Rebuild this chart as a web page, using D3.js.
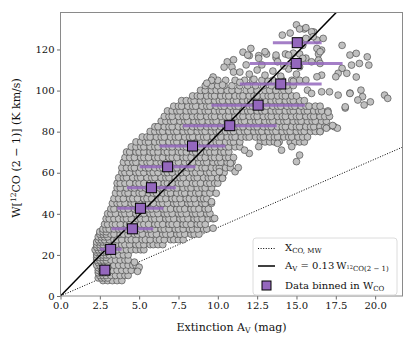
<!DOCTYPE html>
<html>
<head>
<meta charset="utf-8">
<script src="https://cdn.jsdelivr.net/npm/d3@7"></script>
<style>
body { margin: 0; background: #fff; }
text { font-family: "DejaVu Serif", serif; fill: #111; }
</style>
</head>
<body>
<script>
// binned points (W bins of 10 K km/s)
var binW = [12.6, 22.7, 32.7, 42.7, 52.7, 62.9, 73.0, 82.9, 92.9, 103.2, 113.2, 123.3],
    binAv = [2.82, 3.19, 4.57, 5.08, 5.78, 6.81, 8.39, 10.76, 12.56, 14.0, 14.98, 15.05],
    binErr = [0.25, 0.69, 1.33, 1.47, 1.55, 1.77, 2.1, 2.98, 2.97, 2.6, 2.95, 1.55];

var xTicks = [0, 2.5, 5, 7.5, 10, 12.5, 15, 17.5, 20],
    yTicks = [0, 20, 40, 60, 80, 100, 120];

var fitCoef = 0.127, mwCoef = 0.3;

// scatter, row by row: "W: Av*10 ..."
var cloudRows = [
  "7.5: 27 30 33 36 39",
  "8.8: 24 26 28 30",
  "10: 25 27 29 32 35 38 41 43",
  "11.3: 24 26 28 30",
  "12.5: 24 26 28 30 33 36 39 42 45 49",
  "13.8: 24 26 28 30",
  "15: 23 25 27 29 31 34 37 40 43 46 48",
  "16.3: 24 26 28 30",
  "17.5: 23 25 27 29 32 35 38 41 43",
  "18.8: 23 25 27 29",
  "20: 23 25 27 29 31 34 37 40 43",
  "21.3: 23 25 27 29",
  "22.5: 22 24 26 28 30 33 36 39 42 45 48 51 53",
  "23.8: 23 25 27 29",
  "25: 23 25 27 30 32 35 39 41 44 48 50 53 57 59 62 65",
  "26.3: 23 25 27 29",
  "27.4: 24 26 28 31 34 36 39 43 45 48 52 54 57 61 63 66 70 72 75 78",
  "28.8: 24 26 28 30",
  "30.1: 25 27 29 32 34 38 40 43 47 49 52 56 58 61 65 67 70 74 76 79 83 85 88",
  "31.3: 25 27 29",
  "32.6: 27 29 31 34 37 39 42 46 48 51 55 57 60 64 66 69 73 75 78 82 84 87 91 93",
  "34.9: 28 30 33 35 38 42 44 47 51 53 56 60 62 65 69 71 74 78 80 83 87 89 92",
  "37.6: 29 31 34 37 40 42 45 49 51 54 58 60 63 67 69 72 76 78 81 85 87 90 94 97",
  "40.1: 30 32 35 39 41 44 48 50 53 57 59 62 66 68 71 75 77 80 84 86 89 93 95",
  "42.4: 32 34 38 40 43 47 49 52 56 58 61 65 67 70 74 76 79 83 85 88 92 94",
  "45.1: 33 36 38 41 45 47 50 54 56 59 63 65 68 72 74 77 81 83 86 90 92 96",
  "47.4: 34 37 40 44 46 49 53 55 58 62 64 67 71 73 76 80 82 85 89 91 93",
  "50.1: 35 38 41 43 47 50 52 56 59 61 65 68 70 74 77 79 83 86 88 92 95",
  "52.6: 36 38 42 45 47 51 54 56 60 63 65 69 72 74 78 81 83 87 90 92 96",
  "54.9: 36 38 41 44 48 50 53 57 59 62 66 68 71 75 77 80 84 86 89 93 95 98 100",
  "57.6: 37 40 42 46 49 51 55 58 60 64 67 69 73 76 78 82 85 87 91 94 96 100 103",
  "60.1: 39 41 44 48 50 53 57 59 62 66 68 71 75 77 80 84 86 89 93 95 98 102 104",
  "62.4: 39 42 45 47 51 54 56 60 63 65 69 72 74 78 81 83 87 90 92 96 99 101 105 108",
  "65.1: 40 43 46 48 52 55 57 61 64 66 70 73 75 79 82 84 88 91 93 97 100 102 106 109",
  "67.4: 41 44 47 51 53 56 60 62 65 69 71 74 78 80 83 87 89 92 96 98 101 105 107 110",
  "70.1: 42 44 48 50 53 57 59 62 66 68 71 75 77 80 84 86 89 93 95 98 102 104 107",
  "72.6: 45 48 51 53 57 60 62 66 69 71 75 78 80 84 87 89 93 96 98 102 105 107 111 114",
  "75: 48 51 54 56 60 63 65 69 72 74 78 81 83 87 90 92 96 99 101 105 108 110 114 127 130 133 136 139 146 149 152 155",
  "77.4: 52 55 57 61 64 66 70 73 75 79 82 84 88 91 93 97 100 102 106 109 111 115 118 120 124 127 129 133 136 138 142 145 147 151 154 157",
  "80.1: 57 60 63 65 69 72 74 78 81 83 87 90 92 96 99 101 105 108 110 114 117 119 123 126 128 132 135 137 141 144 146 150 153 155 159 162 165",
  "82.4: 60 62 66 69 71 75 78 80 84 87 89 93 96 98 102 105 107 111 114 116 120 123 125 129 132 134 138 141 143 147 150 152 156 159 161 165 168 170 174",
  "85.1: 64 67 70 72 76 79 81 85 88 90 94 97 99 103 106 108 112 115 117 121 124 126 130 133 135 139 142 144 148 151 153 157 160 162 166 169",
  "87.4: 66 69 71 75 78 80 84 87 89 93 96 98 102 105 107 111 114 116 120 123 125 129 132 134 138 141 143 147 150 152 156 159 161 165 168 171",
  "90.1: 68 71 74 76 80 83 85 89 92 94 98 101 103 107 110 112 116 119 121 125 128 130 134 137 139 143 146 148 152 155 157 161 164 166 170",
  "92.4: 72 75 77 81 84 86 90 93 95 99 102 104 108 111 113 117 120 122 126 129 131 135 138 140 144 147 149 153 156 158 162 165",
  "95.1: 77 80 83 85 89 92 94 98 101 103 107 110 112 116 119 121 125 128 130 134 137 139 143 146 148 152 155",
  "97.4: 84 87 89 93 96 98 102 105 107 111 114 116 120 123 125 129 132 134 138 141 143 147 150",
  "100.1: 89 92 96 99 102 106 109 113 118 121 125 130 133 137 142 145",
  "102.4: 92 96 100 104 109 114 119 124 129 134 139 144 148",
  "105: 96 100 105 111 117 122 128 135 141 147 152"
];

// scattered points around the edges [Av, W]
var cloudExtra = [
  [5.0, 14], [4.9, 12], [4.7, 16.5],
  [9.7, 33], [9.8, 37.8], [9.6, 45.9], [9.9, 50], [10.3, 57.3], [10.1, 60.5], [11.1, 60.5],
  [10.8, 64.6], [11.3, 62.5], [12.0, 69.4], [11.7, 71], [12.6, 72.7], [14.05, 71], [13.8, 74.3],
  [14.7, 72.7], [15.0, 65.4], [15.2, 68.6], [16.5, 80], [16.9, 81.7], [17.6, 81.7], [17.3, 83],
  [17.0, 89.5], [18.1, 91.5], [18.4, 98.8], [18.8, 106.6],
  [11.6, 118.7], [12.0, 117], [12.6, 117], [13.1, 117.8], [13.7, 116], [14.3, 117.8], [14.8, 118.2],
  [15.2, 117.8], [15.6, 115.8], [16.4, 117.8], [16.6, 119.7], [16.3, 124.6], [16.1, 128.5],
  [15.5, 130], [15.0, 132], [14.6, 128], [14.1, 127], [10.6, 114], [11.0, 115], [10.9, 111.4],
  [10.4, 111.4], [11.0, 109], [11.4, 109], [9.7, 106.6], [9.6, 105], [9.3, 103.6], [10.3, 102.7],
  [11.4, 104], [15.2, 130], [15.6, 130.6], [15.96, 128.6], [16.06, 126.2], [15.6, 125.4],
  [15.4, 122], [16.3, 120.5], [16.5, 118.9], [16.7, 125.4], [17.9, 122], [12.1, 120.5],
  [13.0, 118.9], [12.6, 115.7], [11.9, 117.3], [13.7, 117.3], [13.8, 114], [14.5, 117.3],
  [15.4, 115.7], [15.96, 114], [16.4, 114.8], [16.5, 113.2], [18.4, 117.3], [18.8, 118.1],
  [19.5, 116.4], [19.0, 113.2], [19.6, 112.4], [18.5, 112.4], [17.9, 110.8], [17.65, 108.4],
  [17.5, 106.7], [18.2, 108.4], [20.6, 97.8], [20.8, 96.2], [19.1, 100.2], [19.2, 97],
  [19.7, 94.5], [19.3, 93], [18.9, 95.4], [18.4, 98.6], [18.1, 92.1], [17.65, 97.8],
  [17.1, 99.4], [16.6, 99.4], [16.6, 107.5], [16.3, 106.7], [15.6, 105.1], [15.7, 100.2],
  [15.96, 98.6], [12.0, 108], [12.5, 110], [13.0, 107.5], [13.5, 109.5], [14.0, 107],
  [14.5, 110.5], [15.0, 108], [12.3, 105.5], [13.2, 104.5], [14.8, 104.5], [12.8, 112.5],
  [14.2, 112], [15.2, 111.5], [11.8, 112.5]
];

var width = 415, height = 346,
    margin = {left: 60.5, right: 12.5, top: 12.5, bottom: 50};

var x = d3.scaleLinear().domain([0, 21.74]).range([margin.left, width - margin.right]);
var y = d3.scaleLinear().domain([0, 138]).range([height - margin.bottom, margin.top]);

var cloud = [];
cloudRows.forEach(function (row) {
  var parts = row.split(":"), w = +parts[0];
  parts[1].trim().split(/\s+/).forEach(function (a) { cloud.push([+a / 10, w]); });
});
cloud = cloud.concat(cloudExtra);

var svg = d3.select("body").append("svg").attr("width", width).attr("height", height);

svg.append("clipPath").attr("id", "plot").append("rect")
  .attr("x", x(0)).attr("y", y(138)).attr("width", x(21.74) - x(0)).attr("height", y(0) - y(138));

var plot = svg.append("g").attr("clip-path", "url(#plot)");

var line = d3.line().x(function (d) { return x(d[0]); }).y(function (d) { return y(d[1]); });

plot.append("path")
  .attr("d", line([[0, 0], [21.74, 21.74 / mwCoef]]))
  .attr("fill", "none").attr("stroke", "#000").attr("stroke-width", 1)
  .attr("stroke-dasharray", "1,1.6");

plot.append("g").selectAll("circle").data(cloud).enter().append("circle")
  .attr("cx", function (d) { return x(d[0]); })
  .attr("cy", function (d) { return y(d[1]); })
  .attr("r", 3.4)
  .attr("fill", "#c0c0c0").attr("stroke", "#3a3a3a").attr("stroke-width", 0.6);

plot.append("path")
  .attr("d", line([[0, 0], [21.74, 21.74 / fitCoef]]))
  .attr("fill", "none").attr("stroke", "#000").attr("stroke-width", 1.5);

plot.append("g").selectAll("line").data(binW).enter().append("line")
  .attr("x1", function (d, i) { return x(binAv[i] - binErr[i]); })
  .attr("x2", function (d, i) { return x(binAv[i] + binErr[i]); })
  .attr("y1", function (d) { return y(d); })
  .attr("y2", function (d) { return y(d); })
  .attr("stroke", "#9467bd").attr("stroke-opacity", 0.85).attr("stroke-width", 3);

plot.append("g").selectAll("rect").data(binW).enter().append("rect")
  .attr("x", function (d, i) { return x(binAv[i]) - 5; })
  .attr("y", function (d) { return y(d) - 5; })
  .attr("width", 10).attr("height", 10)
  .attr("fill", "#9467bd").attr("stroke", "#000").attr("stroke-width", 1);

// axes
var xAxis = svg.append("g").attr("transform", "translate(0," + y(0) + ")")
  .call(d3.axisBottom(x).tickValues(xTicks).tickFormat(d3.format(".1f")).tickSizeOuter(0).tickSize(3.5).tickPadding(2.5));
var yAxis = svg.append("g").attr("transform", "translate(" + x(0) + ",0)")
  .call(d3.axisLeft(y).tickValues(yTicks).tickSizeOuter(0).tickSize(3.5).tickPadding(2.5));
[xAxis, yAxis].forEach(function (a) {
  a.select(".domain").remove();
  a.selectAll(".tick line").attr("stroke", "#444").attr("stroke-width", 0.8);
  a.selectAll(".tick text").attr("font-size", 10).attr("font-family", "DejaVu Serif").attr("fill", "#111");
});

svg.append("rect")
  .attr("x", x(0)).attr("y", y(138)).attr("width", x(21.74) - x(0)).attr("height", y(0) - y(138))
  .attr("fill", "none").attr("stroke", "#8a8a8a").attr("stroke-width", 1);

// axis labels
var xl = svg.append("text").attr("x", (x(0) + x(21.74)) / 2).attr("y", 331)
  .attr("text-anchor", "middle").attr("font-size", 11);
xl.append("tspan").text("Extinction A");
xl.append("tspan").attr("font-size", 7.5).attr("dy", 2).text("V");
xl.append("tspan").attr("dy", -2).text(" (mag)");

var yl = svg.append("text").attr("transform", "translate(20,148) rotate(-90)")
  .attr("text-anchor", "middle").attr("font-size", 11);
yl.append("tspan").text("W[");
yl.append("tspan").attr("font-size", 7.5).attr("dy", -4).text("12");
yl.append("tspan").attr("dy", 4).text("CO (2 \u2212 1)]  (K km/s)");

// legend
var lg = svg.append("g").attr("transform", "translate(253,238)");
lg.append("rect").attr("width", 144).attr("height", 57).attr("rx", 3)
  .attr("fill", "#fff").attr("fill-opacity", 0.85).attr("stroke", "#d3d3d3").attr("stroke-width", 0.8);
lg.append("line").attr("x1", 5).attr("x2", 22).attr("y1", 10.5).attr("y2", 10.5)
  .attr("stroke", "#000").attr("stroke-width", 1).attr("stroke-dasharray", "1,1.6");
lg.append("line").attr("x1", 5).attr("x2", 22).attr("y1", 28).attr("y2", 28)
  .attr("stroke", "#000").attr("stroke-width", 1.5);
lg.append("rect").attr("x", 9).attr("y", 43).attr("width", 9).attr("height", 9)
  .attr("fill", "#9467bd").attr("stroke", "#000").attr("stroke-width", 1);

var t1 = lg.append("text").attr("x", 32).attr("y", 13).attr("font-size", 10);
t1.append("tspan").text("X");
t1.append("tspan").attr("font-size", 7).attr("dy", 2).text("CO, MW");

var t2 = lg.append("text").attr("x", 32).attr("y", 31).attr("font-size", 10);
t2.append("tspan").text("A");
t2.append("tspan").attr("font-size", 7).attr("dy", 2).text("V");
t2.append("tspan").attr("dy", -2).text(" = 0.13\u2009W");
t2.append("tspan").attr("font-size", 5).attr("dy", 0).text("12");
t2.append("tspan").attr("font-size", 7).attr("dy", 2).text("CO(2 \u2212 1)");

var t3 = lg.append("text").attr("x", 32).attr("y", 51).attr("font-size", 10);
t3.append("tspan").text("Data binned in W");
t3.append("tspan").attr("font-size", 7).attr("dy", 2).text("CO");
</script>
</body>
</html>
